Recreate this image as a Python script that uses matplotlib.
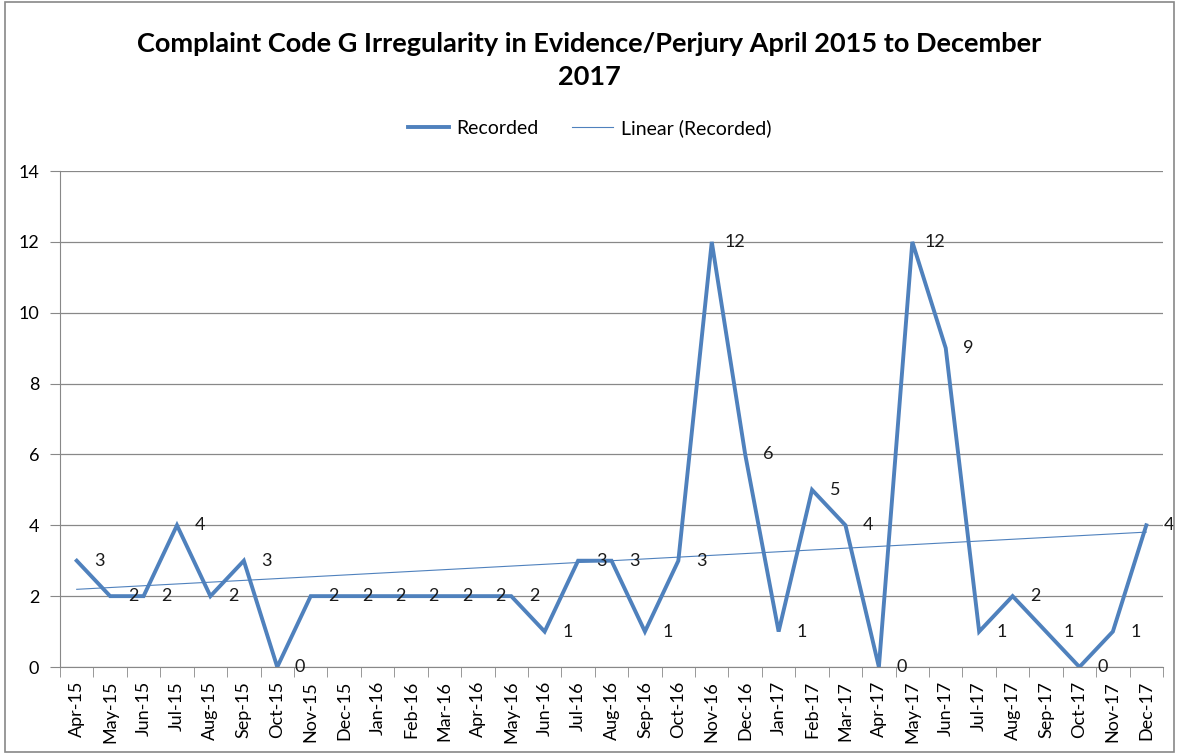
import matplotlib.pyplot as plt
import numpy as np

months = ['Apr-15', 'May-15', 'Jun-15', 'Jul-15', 'Aug-15', 'Sep-15', 'Oct-15', 'Nov-15',
          'Dec-15', 'Jan-16', 'Feb-16', 'Mar-16', 'Apr-16', 'May-16', 'Jun-16', 'Jul-16',
          'Aug-16', 'Sep-16', 'Oct-16', 'Nov-16', 'Dec-16', 'Jan-17', 'Feb-17', 'Mar-17',
          'Apr-17', 'May-17', 'Jun-17', 'Jul-17', 'Aug-17', 'Sep-17', 'Oct-17', 'Nov-17',
          'Dec-17']
recorded = [3, 2, 2, 4, 2, 3, 0, 2, 2, 2, 2, 2, 2, 2, 1, 3, 3, 1, 3, 12, 6, 1, 5, 4,
            0, 12, 9, 1, 2, 1, 0, 1, 4]

plt.rcParams['font.family'] = ['Lato', 'DejaVu Sans']

fig = plt.figure(figsize=(11.79, 7.54), dpi=100)
ax = fig.add_axes([60 / 1179, 1 - 667 / 754, 1103 / 1179, 496 / 754])

x = np.arange(len(months))
ax.plot(x, recorded, color='#4F81BD', lw=2.8, label='Recorded', solid_joinstyle='miter')

# linear trendline
k, b = np.polyfit(x, recorded, 1)
ax.plot(x, k * x + b, color='#4F81BD', lw=0.8, label='Linear (Recorded)')

for xi, v in zip(x, recorded):
    ax.annotate(str(v), (xi, v), xytext=(16.5, 0), textcoords='offset points',
                ha='center', va='center', fontsize=13, color='#1a1a1a')

ax.set_xlim(-0.5, len(months) - 0.5)
ax.set_ylim(0, 14)
ax.set_yticks(range(0, 15, 2))
ax.set_xticks(x)
ax.set_xticklabels(months, rotation=90, fontsize=13)
ax.set_xticks(np.arange(-0.5, len(months), 1), minor=True)
ax.tick_params(axis='x', which='major', length=0, pad=10)
ax.tick_params(axis='x', which='minor', length=7, color='#888888')
ax.tick_params(axis='y', length=7, color='#888888', labelsize=13, pad=8)
ax.grid(axis='y', color='#888888', lw=0.9)
ax.set_axisbelow(True)
for s in ['top', 'right']:
    ax.spines[s].set_visible(False)
ax.spines['left'].set_color('#888888')
ax.spines['bottom'].set_color('#888888')

fig.suptitle('Complaint Code G Irregularity in Evidence/Perjury April 2015 to December\n2017',
             fontsize=19.5, fontweight='bold', y=0.958, linespacing=1.45)
fig.legend(loc='center', bbox_to_anchor=(0.5, 1 - 128 / 754), ncol=2, frameon=False,
           fontsize=14, handlelength=2.1, handletextpad=0.4, columnspacing=1.7)

fig.patches.append(plt.Rectangle((0.004, 0.003), 0.992, 0.994, transform=fig.transFigure,
                                 fill=False, edgecolor='#888888', lw=1.2))

plt.savefig('out.png', dpi=100)
